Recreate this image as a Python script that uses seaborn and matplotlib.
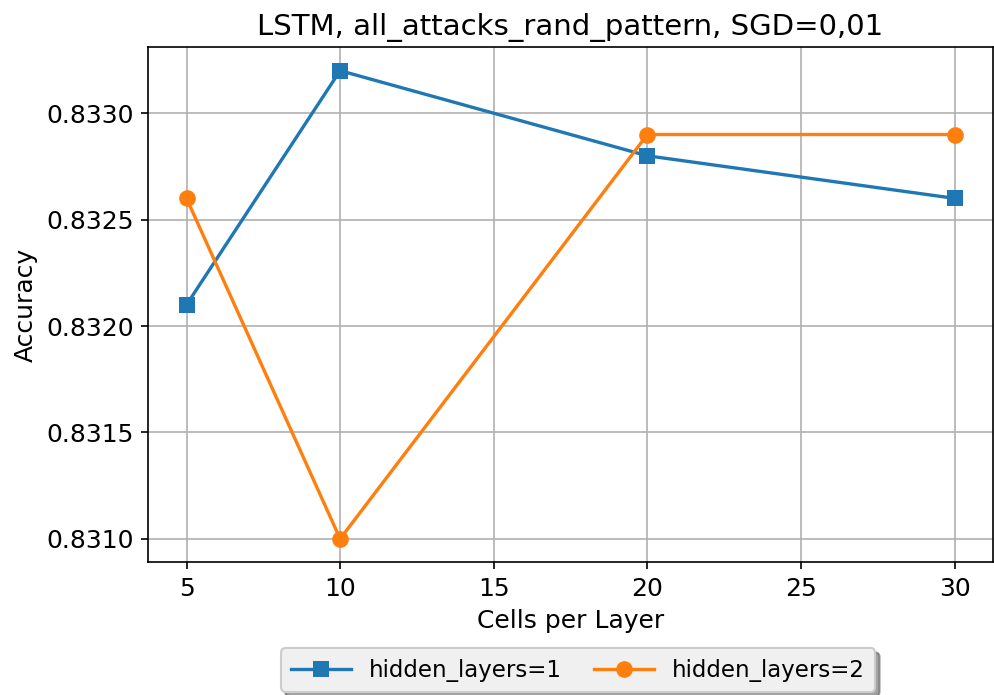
import matplotlib
matplotlib.use("Agg")
import matplotlib.pyplot as plt
import seaborn as sns
import pandas as pd

cells = [5, 10, 20, 30]
acc_h1 = [0.8321, 0.8332, 0.8328, 0.8326]
acc_h2 = [0.8326, 0.8310, 0.8329, 0.8329]
labels = ["hidden_layers=1", "hidden_layers=2"]
title = "LSTM, all_attacks_rand_pattern, SGD=0,01"
yticks = [0.8310, 0.8315, 0.8320, 0.8325, 0.8330]
xticks = [5, 10, 15, 20, 25, 30]

df = pd.DataFrame({
    "cells": cells * 2,
    "acc": acc_h1 + acc_h2,
    "series": [labels[0]] * len(cells) + [labels[1]] * len(cells),
})

fig = plt.figure(figsize=(994 / 150, 695 / 150), dpi=150)
ax = fig.add_axes([0.149, 0.191, 0.850, 0.741])

sns.lineplot(data=df, x="cells", y="acc", hue="series", style="series",
             markers=["s", "o"], dashes=False, markersize=8, markeredgewidth=0,
             linewidth=1.6, palette=["#1f77b4", "#ff7f0e"], ax=ax, legend=True)

ax.grid(True, color="#b0b0b0", linewidth=0.8)
ax.set_axisbelow(True)
ax.set_xlabel("Cells per Layer", fontsize=12)
ax.set_ylabel("Accuracy", fontsize=12)
ax.set_title(title, fontsize=14)
ax.set_yticks(yticks)
ax.set_yticklabels([f"{v:.4f}" for v in yticks])
ax.set_xticks(xticks)
ax.tick_params(labelsize=12)

leg = ax.legend(loc="upper center", bbox_to_anchor=(0.509, -0.167), ncol=2,
                shadow=True, fancybox=True, title=None, fontsize=11,
                borderaxespad=0, handlelength=2.6, columnspacing=1.4,
                borderpad=0.45)
leg.get_frame().set_facecolor("#f0f0f0")

fig.savefig("out.png", dpi=150)
